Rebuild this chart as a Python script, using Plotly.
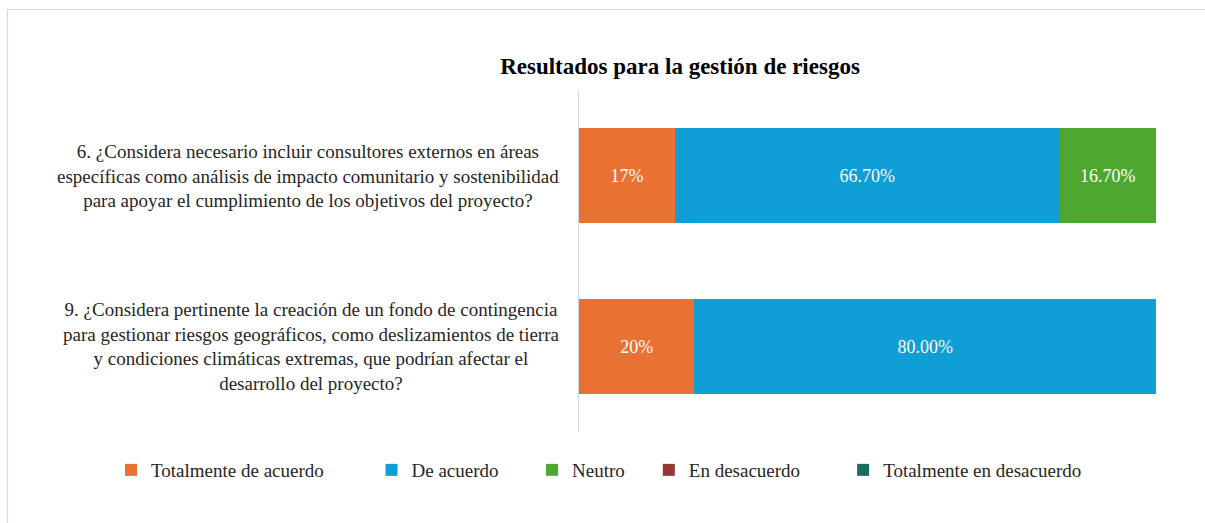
import plotly.graph_objects as go

# Data
question_keys = ["P6", "P9"]
question_texts = [
    "6. ¿Considera necesario incluir consultores externos en áreas<br>específicas como análisis de impacto comunitario y sostenibilidad<br>para apoyar el cumplimiento de los objetivos del proyecto?",
    "9. ¿Considera pertinente la creación de un fondo de contingencia<br>para gestionar riesgos geográficos, como deslizamientos de tierra<br>y condiciones climáticas extremas, que podrían afectar el<br>desarrollo del proyecto?",
]
series_names = ["Totalmente de acuerdo", "De acuerdo", "Neutro", "En desacuerdo", "Totalmente en desacuerdo"]
totalmente_acuerdo = [16.6, 20.0]
de_acuerdo = [66.7, 80.0]
neutro = [16.7, 0.0]
en_desacuerdo = [0.0, 0.0]
totalmente_desacuerdo = [0.0, 0.0]
labels_totalmente_acuerdo = ["17%", "20%"]
labels_de_acuerdo = ["66.70%", "80.00%"]
labels_neutro = ["16.70%", ""]
labels_en_desacuerdo = ["", ""]
labels_totalmente_desacuerdo = ["", ""]

colors = ["#E97132", "#0F9ED5", "#4EA72E", "#953735", "#1B6B63"]
values = [totalmente_acuerdo, de_acuerdo, neutro, en_desacuerdo, totalmente_desacuerdo]
labels = [labels_totalmente_acuerdo, labels_de_acuerdo, labels_neutro,
          labels_en_desacuerdo, labels_totalmente_desacuerdo]
# trailing non-breaking spaces widen the legend entries to the reference spacing
legend_pad = [9, 6, 4, 8, 0]

FONT = "Liberation Serif"

# plot area in pixels
L, R, T, B = 579, 1156, 90, 432
W, H = 1205, 523
pw, ph = R - L, B - T


def px_x(p):
    return (p - L) / pw


def px_y(p):
    return (B - p) / ph


fig = go.Figure()
for name, vals, labs, col, pad in zip(series_names, values, labels, colors, legend_pad):
    fig.add_trace(go.Bar(
        y=question_keys, x=vals, name=name + "\u00a0" * pad, orientation="h",
        marker=dict(color=col, line=dict(width=0)),
        text=labs, textposition="inside", insidetextanchor="middle",
        textfont=dict(color="white", size=18, family=FONT),
        texttemplate="%{text}", hoverinfo="skip",
    ))

for key, txt in zip(question_keys, question_texts):
    fig.add_annotation(
        x=px_x(561), xref="paper", y=key, yref="y", text=txt,
        showarrow=False, xanchor="right", yanchor="middle", align="center",
        font=dict(size=19, family=FONT, color="#262626"),
    )

# outer border
fig.add_shape(type="rect", xref="paper", yref="paper",
              x0=px_x(7.5), x1=px_x(1212), y0=px_y(530), y1=px_y(9.5),
              line=dict(color="#D9D9D9", width=1.2), fillcolor="rgba(0,0,0,0)", layer="below")

fig.update_layout(
    width=W, height=H,
    margin=dict(l=L, r=W - R, t=T, b=H - B, autoexpand=False),
    barmode="stack", bargap=0.44,
    paper_bgcolor="white", plot_bgcolor="white",
    font=dict(family=FONT, size=19, color="#262626"),
    title=dict(text="<b>Resultados para la gestión de riesgos</b>",
               x=680 / W, xref="container", xanchor="center",
               y=1 - 66 / H, yref="container", yanchor="middle",
               font=dict(size=23, family=FONT, color="black")),
    xaxis=dict(range=[0, 100], visible=False, fixedrange=True),
    yaxis=dict(type="category", categoryorder="array", categoryarray=question_keys,
               autorange="reversed",
               showticklabels=False, showgrid=False, zeroline=False,
               showline=True, linecolor="#D9D9D9", linewidth=1, ticks=""),
    legend=dict(orientation="h", xref="paper", x=px_x(111), xanchor="left",
                yref="paper", y=px_y(470), yanchor="middle",
                font=dict(size=19, family=FONT, color="#262626"),
                itemwidth=30, traceorder="normal"),
    showlegend=True,
)

fig.write_html("out.html")
